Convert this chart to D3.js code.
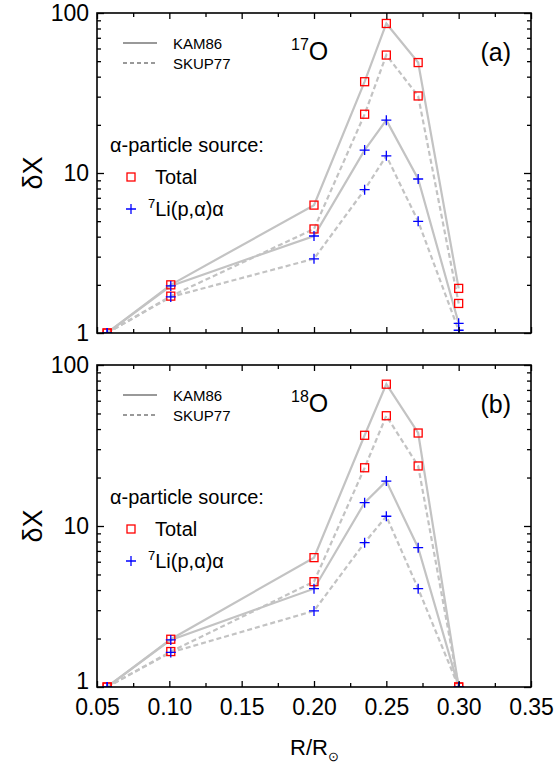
<!DOCTYPE html>
<html>
<head>
<meta charset="utf-8">
<script src="https://cdn.jsdelivr.net/npm/d3@7"></script>
<style>
  body { margin: 0; background: #fff; }
  svg { display: block; font-family: "Liberation Sans", Arial, sans-serif; }
</style>
</head>
<body>
<div id="chart"></div>
<script>
// radius positions (R/Rsun) of the model points
const radius = [0.057, 0.101, 0.20, 0.235, 0.25, 0.272, 0.30];

// 17O, panel (a)
const o17TotalKAM86 = [1, 2.0, 6.3, 37.2, 86, 49, 1.9];
const o17TotalSKUP77 = [1, 1.7, 4.47, 23.3, 54.6, 30.3, 1.53];
const o17LiKAM86 = [1, 1.97, 4.04, 13.9, 21.4, 9.17, 1.15];
const o17LiSKUP77 = [1, 1.68, 2.91, 7.87, 12.8, 4.99, 1.04];

// 18O, panel (b)
const o18TotalKAM86 = [1, 1.98, 6.36, 36.6, 76, 37.8, 1];
const o18TotalSKUP77 = [1, 1.66, 4.51, 23.0, 48.4, 23.6, 1];
const o18LiKAM86 = [1, 1.96, 4.08, 13.96, 19.0, 7.33, 1];
const o18LiSKUP77 = [1, 1.64, 2.97, 7.88, 11.5, 4.08, 1];

const xMajor = [0.05, 0.10, 0.15, 0.20, 0.25, 0.30, 0.35];
const xMinor = [0.075, 0.125, 0.175, 0.225, 0.275, 0.325];
const yMajor = [1, 10, 100];
const yMinor = [2, 3, 4, 5, 6, 7, 8, 9, 20, 30, 40, 50, 60, 70, 80, 90];

const width = 555, height = 767;
const left = 97, right = 531;
const lineGray = "#c3c3c3";
const dashed = "5,3";

const svg = d3.select("#chart").append("svg")
  .attr("width", width)
  .attr("height", height);

const x = d3.scaleLinear().domain([0.05, 0.35]).range([left, right]);

const panels = [
  { top: 13, bottom: 333, iso: "17", tag: "(a)", showX: false,
    series: [
      { vals: o17TotalKAM86, dash: null, mark: "square" },
      { vals: o17TotalSKUP77, dash: dashed, mark: "square" },
      { vals: o17LiKAM86, dash: null, mark: "plus" },
      { vals: o17LiSKUP77, dash: dashed, mark: "plus" }
    ] },
  { top: 365, bottom: 687, iso: "18", tag: "(b)", showX: true,
    series: [
      { vals: o18TotalKAM86, dash: null, mark: "square" },
      { vals: o18TotalSKUP77, dash: dashed, mark: "square" },
      { vals: o18LiKAM86, dash: null, mark: "plus" },
      { vals: o18LiSKUP77, dash: dashed, mark: "plus" }
    ] }
];

function drawSquare(g, cx, cy) {
  g.append("rect")
    .attr("x", cx - 4).attr("y", cy - 4)
    .attr("width", 8).attr("height", 8)
    .attr("fill", "none").attr("stroke", "#ff0000").attr("stroke-width", 1.3);
}

function drawPlus(g, cx, cy) {
  g.append("path")
    .attr("d", `M${cx - 5},${cy}H${cx + 5}M${cx},${cy - 5}V${cy + 5}`)
    .attr("stroke", "#0000ff").attr("stroke-width", 1.3);
}

panels.forEach(function (p, pi) {
  const y = d3.scaleLog().domain([1, 100]).range([p.bottom, p.top]);
  const g = svg.append("g");

  // clip so points sitting on the axis get cut like in the original
  const clipId = "clip" + pi;
  svg.append("clipPath").attr("id", clipId)
    .append("rect")
    .attr("x", left).attr("y", p.top)
    .attr("width", right - left).attr("height", p.bottom - p.top);

  const plot = g.append("g").attr("clip-path", `url(#${clipId})`);

  const line = d3.line()
    .x(function (d, i) { return x(radius[i]); })
    .y(function (d) { return y(d); });

  // lines first, markers on top
  p.series.forEach(function (s) {
    plot.append("path")
      .attr("d", line(s.vals))
      .attr("fill", "none")
      .attr("stroke", lineGray)
      .attr("stroke-width", 2.2)
      .attr("stroke-dasharray", s.dash);
  });
  p.series.forEach(function (s) {
    s.vals.forEach(function (v, i) {
      if (s.mark === "square") drawSquare(plot, x(radius[i]), y(v));
      else drawPlus(plot, x(radius[i]), y(v));
    });
  });

  //**********************
  //        AXES
  //**********************
  g.append("g").attr("transform", `translate(0,${p.bottom})`)
    .call(d3.axisBottom(x).tickValues(xMajor).tickSize(-6).tickPadding(12)
      .tickFormat(p.showX ? d3.format(".2f") : ""));
  g.append("g").attr("transform", `translate(0,${p.bottom})`)
    .call(d3.axisBottom(x).tickValues(xMinor).tickSize(-4).tickFormat(""));
  g.append("g").attr("transform", `translate(0,${p.top})`)
    .call(d3.axisTop(x).tickValues(xMajor).tickSize(-6).tickFormat(""));
  g.append("g").attr("transform", `translate(0,${p.top})`)
    .call(d3.axisTop(x).tickValues(xMinor).tickSize(-4).tickFormat(""));

  const yAx = g.append("g").attr("transform", `translate(${left},0)`)
    .call(d3.axisLeft(y).tickValues(yMajor).tickSize(-7).tickPadding(8)
      .tickFormat(d3.format("d")));
  g.append("g").attr("transform", `translate(${left},0)`)
    .call(d3.axisLeft(y).tickValues(yMinor).tickSize(-4).tickFormat(""));
  g.append("g").attr("transform", `translate(${right},0)`)
    .call(d3.axisRight(y).tickValues(yMajor).tickSize(-7).tickFormat(""));
  g.append("g").attr("transform", `translate(${right},0)`)
    .call(d3.axisRight(y).tickValues(yMinor).tickSize(-4).tickFormat(""));

  g.selectAll(".domain").remove();
  g.selectAll(".tick line").attr("stroke", "#000").attr("stroke-width", 1.3);
  g.selectAll(".tick text").attr("font-size", 23).attr("fill", "#000")
    .attr("font-family", "Liberation Sans, Arial, sans-serif");

  // the lowest "1" sits a touch higher so it clears the x labels
  if (p.showX) {
    yAx.selectAll(".tick text").filter(function (d) { return d === 1; })
      .attr("dy", "0.08em");
  }

  // frame
  g.append("rect")
    .attr("x", left).attr("y", p.top)
    .attr("width", right - left).attr("height", p.bottom - p.top)
    .attr("fill", "none").attr("stroke", "#000").attr("stroke-width", 1.6);

  // y label
  g.append("text")
    .attr("transform", `translate(42,${(p.top + p.bottom) / 2}) rotate(-90)`)
    .attr("text-anchor", "middle")
    .attr("font-size", 27)
    .text("δX");

  //**********************
  //        LEGEND
  //**********************
  const t = p.top;
  g.append("line").attr("x1", 123).attr("x2", 157).attr("y1", t + 30).attr("y2", t + 30)
    .attr("stroke", "#999").attr("stroke-width", 2.2);
  g.append("line").attr("x1", 123).attr("x2", 157).attr("y1", t + 50).attr("y2", t + 50)
    .attr("stroke", "#999").attr("stroke-width", 2.2).attr("stroke-dasharray", "4,3");
  g.append("text").attr("x", 173).attr("y", t + 36).attr("font-size", 15).text("KAM86");
  g.append("text").attr("x", 173).attr("y", t + 56).attr("font-size", 15).text("SKUP77");

  g.append("text").attr("x", 110).attr("y", t + 139).attr("font-size", 20)
    .text("α-particle source:");
  drawSquare(g, 131, t + 164);
  g.append("text").attr("x", 155).attr("y", t + 171).attr("font-size", 20).text("Total");
  drawPlus(g, 131, t + 196);
  const li = g.append("text").attr("x", 148).attr("y", t + 203).attr("font-size", 20);
  li.append("tspan").attr("font-size", 13).attr("dy", -8).text("7");
  li.append("tspan").attr("dy", 8).text("Li(p,α)α");

  // isotope and panel tag
  const iso = g.append("text").attr("x", 291).attr("y", t + 47).attr("font-size", 25);
  iso.append("tspan").attr("font-size", 16).attr("dy", -10).text(p.iso);
  iso.append("tspan").attr("dy", 10).text("O");
  g.append("text").attr("x", 511).attr("y", t + 48).attr("text-anchor", "end")
    .attr("font-size", 25).text(p.tag);
});

// x label
const xl = svg.append("text")
  .attr("x", 290).attr("y", 755).attr("font-size", 22);
xl.append("tspan").text("R/R");
xl.append("tspan").attr("font-size", 13).attr("dy", 6).text("⊙");
</script>
</body>
</html>
